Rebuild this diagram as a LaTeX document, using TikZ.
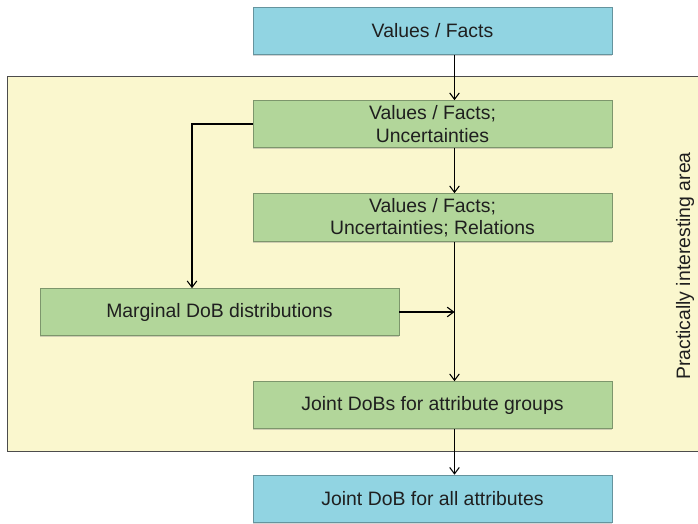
\documentclass[tikz,border=0pt]{standalone}
\usepackage{fontspec}
\setmainfont{Liberation Sans}
\usetikzlibrary{shadows,arrows.meta}

\definecolor{boxblue}{RGB}{145,212,226}
\definecolor{boxgreen}{RGB}{178,214,154}
\definecolor{areayellow}{RGB}{250,247,206}

\tikzset{
    bluebox/.style={shape=rectangle, draw=boxblue!70!black, line width=0.3pt, fill=boxblue, align=center,
        minimum width=8.975cm, minimum height=1.18cm, drop shadow={shadow xshift=0.3pt, shadow yshift=-1pt, opacity=0.35}},
    greenbox/.style={bluebox, draw=boxgreen!70!black, fill=boxgreen},
    flow/.style={-{Straight Barb[length=1.6mm, width=2.4mm]}, line width=0.75pt, black}
}

\begin{document}
\begin{tikzpicture}[x=0.025cm, y=-0.025cm, font=\fontsize{13.8}{15.8}\selectfont, text=black!88]

    \useasboundingbox (0,0) rectangle (698,524);

    \fill[areayellow] (7,76) rectangle (698,451);
    \draw[black!70, line width=0.6pt] (698,76) -- (7,76) -- (7,451) -- (698,451);

    \node[rotate=90] (AreaLabel) at (685,266) {Practically interesting area};

    \node[bluebox] (Facts) at (432.5,31) {Values / Facts};

    \node[greenbox] (FactsUnc) at (432.5,124) {Values / Facts;\\ Uncertainties};

    \node[greenbox] (FactsRel) at (432.5,217.5) {Values / Facts;\\ Uncertainties; Relations};

    \node[greenbox] (Marginal) at (219.5,312) {Marginal DoB distributions};

    \node[greenbox] (JointGroups) at (432.5,405) {Joint DoBs for attribute groups};

    \node[bluebox] (JointAll) at (432.5,498.5) {Joint DoB for all attributes};

    \coordinate (Trunk) at (454.5,0);
    \coordinate (Branch) at (192,0);

    \draw[flow] (Facts.south -| Trunk) -- (FactsUnc.north -| Trunk);
    \draw[flow] (FactsUnc.south -| Trunk) -- (FactsRel.north -| Trunk);
    \draw[flow] (FactsRel.south -| Trunk) -- (JointGroups.north -| Trunk);
    \draw[flow] (FactsUnc.west) -| (Branch |- Marginal.north);
    \draw[flow] (Marginal.east) -- (Marginal.east -| Trunk);
    \draw[flow] (JointGroups.south -| Trunk) -- (JointAll.north -| Trunk);

\end{tikzpicture}
\end{document}
